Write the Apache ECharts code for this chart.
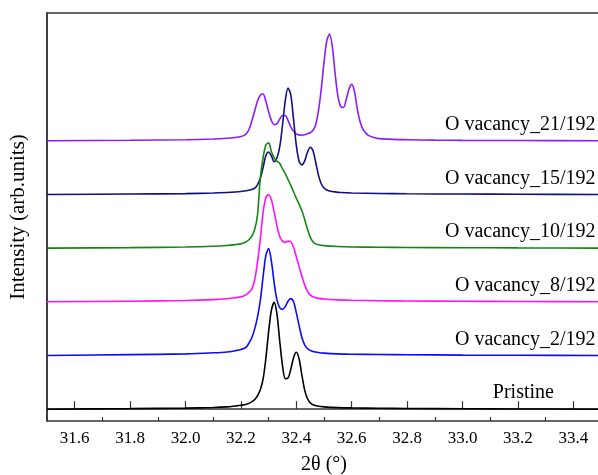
<!DOCTYPE html>
<html>
<head>
<meta charset="utf-8">
<script src="https://cdn.jsdelivr.net/npm/echarts@6/dist/echarts.min.js"></script>
<style>
html, body { margin: 0; padding: 0; background: #fff; }
#chart { width: 598px; height: 475px; }
</style>
</head>
<body>
<div id="chart"></div>
<script>
// curve names, bottom to top
const names = ['Pristine', 'O vacancy_2/192', 'O vacancy_8/192', 'O vacancy_10/192', 'O vacancy_15/192', 'O vacancy_21/192']
const colors = ['#000000', '#0a0aff', '#ff10ff', '#118811', '#10107e', '#8a1cff']
const offsets = [0, 50, 100, 150, 200, 250]
const labelX = [33.33, 33.48, 33.48, 33.48, 33.48, 33.48]

const majorTicks = [31.6, 31.8, 32.0, 32.2, 32.4, 32.6, 32.8, 33.0, 33.2, 33.4]
const minorTicks = [31.7, 31.9, 32.1, 32.3, 32.5, 32.7, 32.9, 33.1, 33.3]

// [2theta, intensity]
const pristine = [[31.5,0],[31.8,0.5],[32.0,1],[32.1,1.6],[32.15,2.2],[32.18,3],[32.2,3.6],[32.22,4.5],[32.24,7],[32.25,9],[32.26,12.5],[32.27,18],[32.28,28],[32.29,47],[32.30,72],[32.31,92],[32.32,99.5],[32.33,89],[32.34,64],[32.35,41],[32.36,28.5],[32.37,29],[32.38,37],[32.39,48],[32.40,53],[32.41,47],[32.42,32],[32.43,18],[32.44,10],[32.45,6],[32.46,4.2],[32.48,2.8],[32.50,2.2],[32.55,1.5],[32.6,1.2],[32.7,0.9],[32.8,0.7],[33.0,0.4],[33.2,0.2],[33.5,0]]
const vac2 = [[31.5,0],[31.8,0.8],[32.0,1.5],[32.1,2.5],[32.15,3.3],[32.18,4.5],[32.2,5.5],[32.21,6.5],[32.22,8],[32.23,12],[32.24,17],[32.25,25],[32.26,36],[32.27,51],[32.28,73],[32.29,93],[32.30,99.5],[32.31,88],[32.32,68],[32.33,52],[32.34,44.5],[32.35,43],[32.36,45.5],[32.37,50.5],[32.38,53],[32.39,50],[32.40,40],[32.41,28],[32.42,17],[32.43,10],[32.44,6.5],[32.45,4.8],[32.46,3.8],[32.48,2.8],[32.50,2.2],[32.55,1.5],[32.6,1.2],[32.7,0.9],[32.8,0.7],[33.0,0.4],[33.2,0.2],[33.5,0]]
const vac8 = [[31.5,0],[31.8,0.6],[32.0,1.2],[32.1,2],[32.15,2.9],[32.18,3.8],[32.2,4.6],[32.21,5.5],[32.22,7],[32.23,9],[32.24,12],[32.25,21],[32.26,37],[32.27,58],[32.28,83],[32.29,97],[32.30,100],[32.31,95],[32.32,84],[32.33,71],[32.34,61],[32.35,56.5],[32.36,55.5],[32.37,56.5],[32.38,56],[32.39,51],[32.40,42],[32.41,33],[32.42,24],[32.43,16],[32.44,10],[32.45,6.5],[32.46,4.8],[32.47,3.8],[32.48,3.2],[32.50,2.6],[32.55,1.8],[32.6,1.4],[32.7,1],[32.8,0.8],[33.0,0.5],[33.2,0.3],[33.5,0]]
const vac10 = [[31.5,0],[31.8,0.5],[32.0,1],[32.1,1.7],[32.15,2.5],[32.18,3.3],[32.2,4],[32.21,4.8],[32.22,6],[32.23,8],[32.24,11.5],[32.25,17.5],[32.26,31],[32.27,65],[32.28,84],[32.29,96],[32.30,98],[32.31,90],[32.32,84],[32.33,81],[32.34,79],[32.35,74],[32.36,69.5],[32.37,64],[32.38,58.5],[32.39,52.5],[32.40,46.5],[32.41,41],[32.42,35],[32.43,27],[32.44,18],[32.45,10.5],[32.46,6],[32.47,4],[32.48,3.1],[32.50,2.3],[32.55,1.5],[32.6,1.1],[32.7,0.8],[32.8,0.6],[33.0,0.4],[33.2,0.2],[33.5,0]]
const vac15 = [[31.5,0],[31.8,0.4],[32.0,0.8],[32.1,1.3],[32.15,1.8],[32.18,2.3],[32.2,2.8],[32.22,3.5],[32.24,4.6],[32.25,5.8],[32.26,9],[32.27,15],[32.28,25],[32.29,36],[32.30,39.5],[32.31,36],[32.32,30.5],[32.33,34],[32.34,44],[32.35,64],[32.36,87],[32.37,99],[32.38,93],[32.39,70],[32.40,46],[32.41,31],[32.42,27.5],[32.43,31],[32.44,39],[32.45,44],[32.46,41],[32.47,30],[32.48,18],[32.49,10],[32.50,6],[32.51,4.2],[32.52,3.3],[32.54,2.4],[32.56,1.8],[32.6,1.3],[32.7,0.9],[32.8,0.6],[33.0,0.4],[33.2,0.2],[33.5,0]]
const vac21 = [[31.5,0],[31.8,0.5],[32.0,1],[32.1,1.6],[32.15,2.3],[32.18,3.1],[32.2,3.9],[32.21,4.8],[32.22,6.8],[32.23,11],[32.24,19],[32.25,28],[32.26,37],[32.27,42.5],[32.28,43.5],[32.29,37],[32.30,27],[32.31,19],[32.32,15],[32.33,16],[32.34,20],[32.35,23.5],[32.36,23.5],[32.37,19],[32.38,13],[32.39,9],[32.40,6.5],[32.41,5.5],[32.42,5.2],[32.43,5.6],[32.44,6.5],[32.45,7.5],[32.46,9.5],[32.47,15],[32.48,28],[32.49,48],[32.50,73],[32.51,93],[32.52,99.5],[32.53,88],[32.54,63],[32.55,42],[32.56,32],[32.57,31],[32.58,38],[32.59,48],[32.60,52.5],[32.61,46],[32.62,30],[32.63,18],[32.64,11],[32.65,7.5],[32.66,5],[32.68,3],[32.70,2],[32.75,1.3],[32.8,1],[32.9,0.6],[33.0,0.4],[33.2,0.2],[33.5,0]]

const curves = [pristine, vac2, vac8, vac10, vac15, vac21]
const font = 'Liberation Serif'

var myChart = echarts.init(document.getElementById('chart'))

// draw top curve first so the lower ones sit on top
var series = []
for (var i = curves.length - 1; i >= 0; i--) {
    var off = offsets[i]
    series.push({
        name: names[i],
        type: 'line',
        data: curves[i].map(p => [p[0], p[1] + off]),
        showSymbol: false,
        smooth: 0.3,
        lineStyle: { color: colors[i], width: 1.6 },
        itemStyle: { color: colors[i] },
        silent: true,
        markPoint: {
            symbol: 'circle',
            symbolSize: 0,
            silent: true,
            data: [{ coord: [labelX[i], off] }],
            label: {
                show: true,
                position: 'left',
                distance: 0,
                offset: [0, -16],
                formatter: names[i],
                color: '#000',
                fontFamily: font,
                fontSize: 20
            }
        }
    })
}

var option = {
    animation: false,
    grid: {
        left: 47, right: -3, top: 13, bottom: 54,
        outerBoundsMode: 'none', containLabel: false,
        show: true, borderColor: '#333', borderWidth: 1.5
    },
    xAxis: [{
        type: 'value',
        min: 31.5,
        max: 33.5,
        name: '2θ (°)',
        nameLocation: 'middle',
        nameGap: 34,
        nameTextStyle: { fontFamily: font, fontSize: 20, color: '#000' },
        axisLine: { lineStyle: { color: '#333', width: 1.5 } },
        axisTick: { inside: true, length: 8, customValues: majorTicks, lineStyle: { color: '#333', width: 1.2 } },
        axisLabel: { customValues: majorTicks, formatter: v => v.toFixed(1), fontFamily: font, fontSize: 17, color: '#000', margin: 9 },
        splitLine: { show: false }
    }, {
        type: 'value',
        min: 31.5,
        max: 33.5,
        position: 'bottom',
        axisLine: { show: false },
        axisTick: { inside: true, length: 4, customValues: minorTicks, lineStyle: { color: '#333', width: 1.2 } },
        axisLabel: { show: false },
        splitLine: { show: false }
    }],
    yAxis: {
        type: 'value',
        min: -11,
        max: 369,
        name: 'Intensity (arb.units)',
        nameLocation: 'middle',
        nameGap: 18,
        nameTextStyle: { fontFamily: font, fontSize: 21, color: '#000' },
        axisLine: { show: true, lineStyle: { color: '#333', width: 1.5 } },
        axisTick: { show: false },
        axisLabel: { show: false },
        splitLine: { show: false }
    },
    series: series
}

myChart.setOption(option)
</script>
</body>
</html>
